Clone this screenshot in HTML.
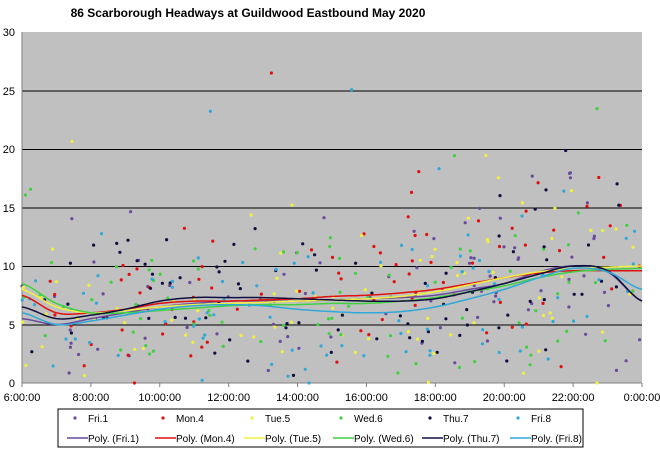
<!DOCTYPE html>
<html><head><meta charset="utf-8">
<style>
body{margin:0;background:#fff;width:660px;height:449px;overflow:hidden;font-family:"Liberation Sans",Arial,sans-serif;}
</style></head><body>
<svg id="s" width="660" height="449" xmlns="http://www.w3.org/2000/svg" font-family="Liberation Sans, Arial, sans-serif">
<text x="248" y="17" font-size="12" font-weight="bold" text-anchor="middle" fill="#000">86 Scarborough  Headways  at Guildwood Eastbound  May 2020</text>
<rect x="22" y="32" width="620" height="351" fill="#c0c0c0"/>
<g stroke="#000" stroke-width="1">
<line x1="22" y1="91" x2="642" y2="91"/><line x1="22" y1="149.5" x2="642" y2="149.5"/><line x1="22" y1="208" x2="642" y2="208"/><line x1="22" y1="266.5" x2="642" y2="266.5"/><line x1="22" y1="325" x2="642" y2="325"/>
<line x1="22" y1="32" x2="22" y2="383" stroke="#808080"/><line x1="22" y1="383" x2="642" y2="383" stroke="#808080"/>
</g>
<g font-size="11" fill="#000" text-anchor="end">
<text x="15" y="36">30</text><text x="15" y="95">25</text><text x="15" y="153">20</text><text x="15" y="212">15</text><text x="15" y="270">10</text><text x="15" y="329">5</text><text x="15" y="387">0</text>
</g>
<g id="xt" font-size="11" fill="#000" text-anchor="middle"></g>
<g id="pts"></g>
<g id="crv" fill="none" stroke-width="1.5"></g>
<rect x="58" y="409" width="525" height="38" fill="#fff" stroke="#000"/>
<g id="leg" font-size="10" fill="#000"></g>
</svg>
<script>
var s='http://www.w3.org/2000/svg';
function el(p,t,a,txt){var e=document.createElementNS(s,t);for(var k in a)e.setAttribute(k,a[k]);if(txt)e.textContent=txt;document.getElementById(p).appendChild(e);return e;}
var X=function(h){return 22+(h-6)*620/18;},Y=function(v){return 383-v*11.7;};
var labs=['6:00:00','8:00:00','10:00:00','12:00:00','14:00:00','16:00:00','18:00:00','20:00:00','22:00:00','0:00:00'];
for(var i=0;i<10;i++){var x=X(6+2*i);el('xt','text',{x:x,y:401},labs[i]);el('xt','line',{x1:x,y1:383,x2:x,y2:387,stroke:'#808080'});}
var cols=['#6a4a9c','#e01010','#f0f040','#40d040','#101040','#30a8d8'];
var names=['Fri.1','Mon.4','Tue.5','Wed.6','Thu.7','Fri.8'];
var cv=[
[5.5,5,5.5,6,6.5,6.8,7,7,7,7.1,7.2,7.3,7.5,8,8.5,9.5,10,9.5,7],
[7.5,6,6,6.3,6.8,7,7,7.1,7.2,7.4,7.5,7.7,8,8.5,9,9.4,9.6,9.6,9.6],
[8,6.5,6,6.2,6.5,6.7,6.8,6.9,7,7.1,7.2,7.4,7.8,8.4,9,9.5,9.8,9.9,10],
[8.5,6.8,6,6,6.2,6.4,6.6,6.7,6.7,6.8,6.8,7,7.3,7.8,8.3,9,9.5,9.7,9.8],
[6.5,5.5,5.8,6.3,7,7.3,7.3,7.3,7.2,7.1,7,7,7.2,7.8,8.5,9.3,10,9.6,7],
[6,5,5.3,5.8,6.3,6.6,6.7,6.6,6.3,6.1,6,6.1,6.5,7.2,8,9,9.8,9.5,8]];
var seed=7;function r(){seed=(seed*16807)%2147483647;return seed/2147483647;}
for(var k=0;k<6;k++){for(var j=0;j<85;j++){var h=6+r()*18;var base=cv[k][Math.min(18,Math.round(h-6))];var v=Math.max(0,base+(r()-0.5)*2*base*(0.4+r()*0.7));if(r()<0.03)v+=6+r()*8;if(v>26.5)v=26.5;el('pts','circle',{cx:X(h).toFixed(1),cy:Y(v).toFixed(1),r:1.6,fill:cols[k]});}}
for(var k=0;k<6;k++){var p=cv[k],d='';for(var t=0;t<=180;t++){var u=t/10,i0=Math.min(17,Math.floor(u)),f=u-i0;var a=p[Math.max(0,i0-1)],b=p[i0],c=p[i0+1],e=p[Math.min(18,i0+2)];var v=b+0.5*f*(c-a+f*(2*a-5*b+4*c-e+f*(3*(b-c)+e-a)));d+=(t?'L':'M')+X(6+u).toFixed(1)+','+Y(v).toFixed(1);}el('crv','path',{d:d,stroke:cols[k]});}
var lx=[75,163,252,341,430,518];
for(var k=0;k<6;k++){el('leg','circle',{cx:lx[k],cy:418,r:1.6,fill:cols[k]});el('leg','text',{x:lx[k]+13,y:422},names[k]);
el('leg','line',{x1:lx[k]-8,y1:438,x2:lx[k]+13,y2:438,stroke:cols[k],'stroke-width':1.5});el('leg','text',{x:lx[k]+13,y:442},'Poly. ('+names[k]+')');}
</script>
</body></html>
